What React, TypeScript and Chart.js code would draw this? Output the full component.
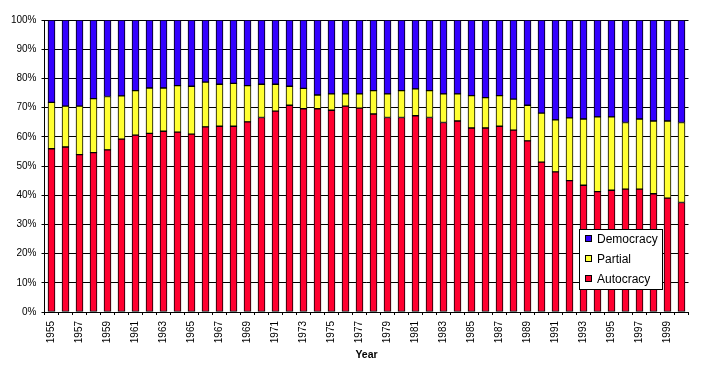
import React, { useEffect, useRef } from "react";
import { Chart, registerables } from "chart.js";

Chart.register(...registerables);

const years: string[] = [];
for (let y = 1955; y <= 2000; y++) years.push(String(y));

const autocracy = [
  55.9, 56.5, 53.9, 54.6, 55.5, 59.2, 60.6, 61.2, 61.9, 61.6, 60.9, 63.4, 63.6, 63.6,
  65.1, 66.6, 68.8, 70.8, 69.6, 69.6, 69.1, 70.5, 69.8, 67.8, 66.6, 66.6, 67.2, 66.6, 64.9, 65.4,
  63.0, 63.0, 63.6, 62.3, 58.6, 51.3, 48.0, 45.0, 43.4, 41.2, 41.7, 42.1, 42.1, 40.5, 39.0, 37.5,
];
const partial = [
  15.9, 14.0, 16.6, 18.5, 18.3, 14.8, 15.2, 15.5, 14.8, 15.9, 16.4, 15.3, 14.4, 14.7,
  12.4, 11.4, 9.2, 6.5, 7.0, 4.7, 5.6, 4.2, 4.9, 8.0, 8.1, 9.2, 9.2, 9.2, 9.8, 9.3,
  11.1, 10.4, 10.5, 10.6, 12.2, 16.8, 17.8, 21.5, 22.7, 25.6, 25.1, 22.8, 24.0, 24.9, 26.4, 27.4,
];
const democracy = [
  28.2, 29.5, 29.5, 26.9, 26.2, 26.0, 24.2, 23.3, 23.3, 22.5, 22.7, 21.3, 22.0, 21.7,
  22.5, 22.0, 22.0, 22.7, 23.4, 25.7, 25.3, 25.3, 25.3, 24.2, 25.3, 24.2, 23.6, 24.2, 25.3, 25.3,
  25.9, 26.6, 25.9, 27.1, 29.2, 31.9, 34.2, 33.5, 33.9, 33.2, 33.2, 35.1, 33.9, 34.6, 34.6, 35.1,
];
const yTicks = [0, 10, 20, 30, 40, 50, 60, 70, 80, 90, 100];

const FONT = "'Liberation Sans', Arial, sans-serif";
const RED = "#FF0030";
const YELLOW = "#FFFF33";
const BLUE = "#3300FF";

const legendPlugin = {
  id: "insideLegend",
  afterDraw(chart: any) {
    const ctx = chart.ctx;
    ctx.save();
    const x0 = 579.5, y0 = 229.5, w = 83, h = 60;
    ctx.fillStyle = "#fff";
    ctx.fillRect(x0, y0, w, h);
    ctx.strokeStyle = "#000";
    ctx.lineWidth = 1;
    ctx.strokeRect(x0, y0, w, h);
    const order = [2, 1, 0];
    ctx.font = `12px ${FONT}`;
    ctx.textBaseline = "middle";
    ctx.textAlign = "left";
    order.forEach((di, i) => {
      const ds = chart.data.datasets[di];
      const cy = 239 + i * 20;
      ctx.fillStyle = ds.backgroundColor;
      ctx.fillRect(585.5, cy - 3.5, 6, 6);
      ctx.strokeStyle = "#000";
      ctx.strokeRect(585.5, cy - 3.5, 6, 6);
      ctx.fillStyle = "#000";
      ctx.fillText(ds.label, 597, cy + 0.5);
    });
    ctx.restore();
  },
};

export default function App() {
  const ref = useRef<HTMLCanvasElement | null>(null);
  useEffect(() => {
    document.body.style.margin = "0";
    const common = { borderColor: "#000", borderWidth: 1, borderSkipped: false, barThickness: 7 };
    const chart = new Chart(ref.current!, {
      type: "bar",
      data: {
        labels: years,
        datasets: [
          { label: "Autocracy", data: autocracy, backgroundColor: RED, ...common } as any,
          { label: "Partial", data: partial, backgroundColor: YELLOW, ...common } as any,
          { label: "Democracy", data: democracy, backgroundColor: BLUE, ...common } as any,
        ],
      },
      options: {
        animation: false,
        responsive: false,
        maintainAspectRatio: false,
        layout: { padding: { left: 0, right: 15.5, top: 20, bottom: 0 } },
        plugins: { legend: { display: false }, tooltip: { enabled: false } },
        scales: {
          x: {
            stacked: true,
            afterFit: (s: any) => { s.height = 54; },
            grid: { offset: true, drawOnChartArea: false, tickLength: 3, color: "#000" },
            border: { color: "#000" },
            ticks: {
              autoSkip: false,
              minRotation: 90,
              maxRotation: 90,
              padding: 6,
              color: "#000",
              font: { family: FONT, size: 10 },
              callback: (_v: any, i: number) => (i % 2 === 0 ? years[i] : ""),
            },
            title: {
              display: true,
              text: "Year",
              color: "#000",
              font: { family: FONT, size: 10.5, weight: "bold" },
              padding: { top: 0, bottom: 5 },
            },
          },
          y: {
            stacked: true,
            min: 0,
            max: 100,
            afterFit: (s: any) => { s.width = 44.5; },
            afterBuildTicks: (s: any) => { s.ticks = yTicks.map((v) => ({ value: v })); },
            grid: { color: "#000", tickLength: 3 },
            border: { color: "#000" },
            ticks: {
              padding: 5,
              color: "#000",
              font: { family: FONT, size: 10 },
              callback: (v: any) => v + "%",
            },
          },
        },
      },
      plugins: [legendPlugin],
    });
    return () => chart.destroy();
  }, []);
  return (
    <div style={{ position: "absolute", left: 0, top: 0, width: 704, height: 366 }}>
      <canvas ref={ref} width={704} height={366} style={{ width: 704, height: 366 }} />
    </div>
  );
}
